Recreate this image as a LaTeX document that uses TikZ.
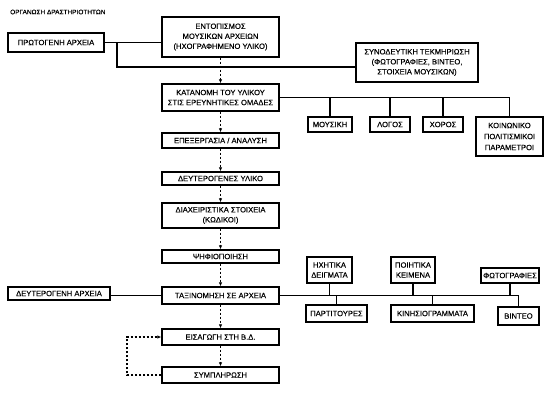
\documentclass[tikz,border=0pt]{standalone}
\usepackage{fontspec}
\setmainfont[BoldFont=Liberation Sans, BoldFeatures={FakeBold=0.25}]{Liberation Sans}
\usetikzlibrary{arrows.meta}
\begin{document}
\begin{tikzpicture}[x=1pt,y=-1pt,
  bx/.style={draw, line width=1.4pt, inner sep=0pt, align=center, font=\fontsize{7.6}{10}\selectfont\bfseries},
  mainbox/.style={bx, minimum width=117pt},
  ln/.style={line width=1.1pt},
  da/.style={line width=1.2pt, dash pattern=on 2.5pt off 1.5pt, -{Latex[length=4pt,width=3.5pt]}},
  ttl/.style={inner sep=0pt, anchor=west, font=\fontsize{6.5}{8}\selectfont\bfseries}]
\useasboundingbox (0,0) rectangle (553,401);
\node[ttl] (title) at (10,12) {ΟΡΓΑΝΩΣΗ ΔΡΑΣΤΗΡΙΟΤΗΤΩΝ};
% main column
\node[mainbox, minimum height=40pt] (entop) at (220.5,37) {ΕΝΤΟΠΙΣΜΟΣ\\ΜΟΥΣΙΚΩΝ ΑΡΧΕΙΩΝ\\(ΗΧΟΓΡΑΦΗΜΕΝΟ ΥΛΙΚΟ)};
\node[mainbox, minimum height=27pt] (katan) at (220.5,97.5) {ΚΑΤΑΝΟΜΗ ΤΟΥ ΥΛΙΚΟΥ\\ΣΤΙΣ ΕΡΕΥΝΗΤΙΚΕΣ ΟΜΑΔΕΣ};
\node[mainbox, minimum height=15pt] (epex) at (220.5,140.5) {ΕΠΕΞΕΡΓΑΣΙΑ / ΑΝΑΛΥΣΗ};
\node[mainbox, minimum height=13pt] (deuty) at (220.5,178.5) {ΔΕΥΤΕΡΟΓΕΝΕΣ ΥΛΙΚΟ};
\node[mainbox, minimum height=25pt] (diax) at (220.5,215.5) {ΔΙΑΧΕΙΡΙΣΤΙΚΑ ΣΤΟΙΧΕΙΑ\\(ΚΩΔΙΚΟΙ)};
\node[mainbox, minimum height=13pt] (psif) at (220.5,256.5) {ΨΗΦΙΟΠΟΙΗΣΗ};
\node[mainbox, minimum height=17pt] (taxin) at (220.5,295.5) {ΤΑΞΙΝΟΜΗΣΗ ΣΕ ΑΡΧΕΙΑ};
\node[mainbox, minimum height=16pt] (eisag) at (220.5,337) {ΕΙΣΑΓΩΓΗ ΣΤΗ Β.Δ.};
\node[mainbox, minimum height=16pt] (sympl) at (220.5,375) {ΣΥΜΠΛΗΡΩΣΗ};
% side boxes
\node[bx, minimum width=96pt, minimum height=19pt] (prot) at (56,42.5) {ΠΡΩΤΟΓΕΝΗ ΑΡΧΕΙΑ};
\node[bx, minimum width=122pt, minimum height=39pt] (synod) at (417,62.5) {ΣΥΝΟΔΕΥΤΙΚΗ ΤΕΚΜΗΡΙΩΣΗ\\(ΦΩΤΟΓΡΑΦΙΕΣ, ΒΙΝΤΕΟ,\\ΣΤΟΙΧΕΙΑ ΜΟΥΣΙΚΩΝ)};
\node[bx, minimum width=44pt, minimum height=15pt] (mous) at (330,124.5) {ΜΟΥΣΙΚΗ};
\node[bx, minimum width=40pt, minimum height=15pt] (logos) at (390,124.5) {ΛΟΓΟΣ};
\node[bx, minimum width=40pt, minimum height=15pt] (xoros) at (443,124.5) {ΧΟΡΟΣ};
\node[bx, minimum width=67pt, minimum height=39pt, font=\fontsize{7.6}{11}\selectfont\bfseries] (koin) at (509.5,136.5) {ΚΟΙΝΩΝΙΚΟ\\ΠΟΛΙΤΙΣΜΙΚΟΙ\\ΠΑΡΑΜΕΤΡΟΙ};
\node[bx, minimum width=102pt, minimum height=13pt] (deuta) at (59,293.5) {ΔΕΥΤΕΡΟΓΕΝΗ ΑΡΧΕΙΑ};
\node[bx, minimum width=45pt, minimum height=26pt] (ixit) at (329.5,270) {ΗΧΗΤΙΚΑ\\ΔΕΙΓΜΑΤΑ};
\node[bx, minimum width=44pt, minimum height=26pt] (poiit) at (413,270) {ΠΟΙΗΤΙΚΑ\\ΚΕΙΜΕΝΑ};
\node[bx, minimum width=58pt, minimum height=15pt] (foto) at (510,275.5) {ΦΩΤΟΓΡΑΦΙΕΣ};
\node[bx, minimum width=61pt, minimum height=17pt] (part) at (336.5,313.5) {ΠΑΡΤΙΤΟΥΡΕΣ};
\node[bx, minimum width=83pt, minimum height=17pt] (kines) at (432.5,313.5) {ΚΙΝΗΣΙΟΓΡΑΜΜΑΤΑ};
\node[bx, minimum width=41pt, minimum height=18pt] (binteo) at (518.5,316) {ΒΙΝΤΕΟ};
% solid connectors
\draw[ln] (prot.east) -- (prot.east -| entop.west);
\coordinate (j1) at (117,42.5);
\coordinate (j2) at (117,67);
\draw[ln] (j1) -- (j2) -- (j2 -| synod.west);
\draw[ln] (katan.east) -- (katan.east -| koin.north) -- (koin.north);
\draw[ln] (mous.north |- katan.east) -- (mous.north);
\draw[ln] (logos.north |- katan.east) -- (logos.north);
\draw[ln] (xoros.north |- katan.east) -- (xoros.north);
\draw[ln] (deuta.east |- taxin.west) -- (taxin.west);
\draw[ln] (taxin.east) -- (taxin.east -| binteo.north) -- (binteo.north);
\draw[ln] (ixit.south) -- (ixit.south |- taxin.east);
\draw[ln] (poiit.south) -- (poiit.south |- taxin.east);
\draw[ln] (foto.south) -- (foto.south |- taxin.east);
\draw[ln] (part.north) -- (part.north |- taxin.east);
\draw[ln] (kines.north) -- (kines.north |- taxin.east);
% dashed arrows
\draw[da] (entop.south) -- (katan.north);
\draw[da] (katan.south) -- (epex.north);
\draw[da] (epex.south) -- (deuty.north);
\draw[da] (deuty.south) -- (diax.north);
\draw[da] (diax.south) -- (psif.north);
\draw[da] (psif.south) -- (taxin.north);
\draw[da] (taxin.south) -- (eisag.north);
\draw[da] (eisag.south) -- (sympl.north);
\coordinate (l1) at (127,0);
\draw[da] (sympl.west) -- (sympl.west -| l1) |- (eisag.west);
\end{tikzpicture}
\end{document}
